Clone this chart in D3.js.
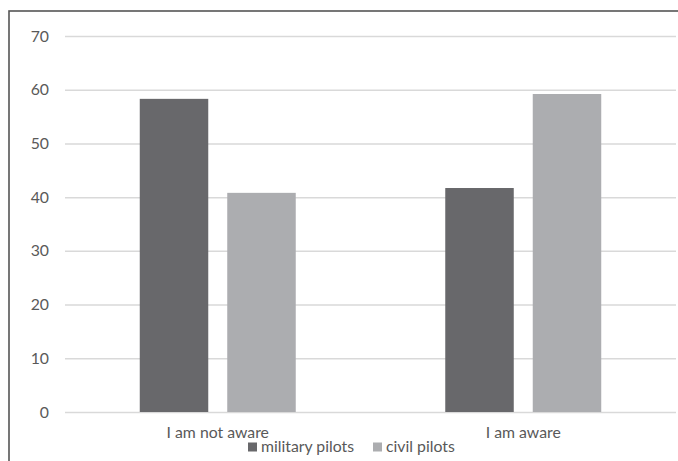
<!DOCTYPE html>
<html><head><meta charset="utf-8">
<script src="https://cdn.jsdelivr.net/npm/d3@7"></script>
<style>html,body{margin:0;padding:0;background:#fff;}svg{display:block;}</style>
</head><body>
<script>
const categories = ["I am not aware", "I am aware"];
const seriesNames = ["military pilots", "civil pilots"];
const military = [58.3, 41.7];
const civil = [40.8, 59.2];
const yTicks = [0, 10, 20, 30, 40, 50, 60, 70];
const colors = ["#68686b", "#acadb0"];

(function () {
const W = 678, H = 461;
const svg = d3.select("body").append("svg").attr("width", W).attr("height", H);
const font = "Lato, 'Open Sans', sans-serif";
const fs = "15.8px";

// frame (left & top edges visible)
svg.append("rect").attr("x", 9).attr("y", 11).attr("width", W + 10).attr("height", H + 10)
  .attr("fill", "none").attr("stroke", "#555").attr("stroke-width", 1.6);

const pl = 65, pr = 676, pt = 36, pb = 412;
const y = d3.scaleLinear().domain([0, 70]).range([pb, pt]);
const x0 = d3.scaleBand().domain(categories).range([pl, pr]).padding(0);
const bw = x0.bandwidth();
const groupW = bw * 0.5106;
const x1 = d3.scaleBand().domain(seriesNames).range([(bw - groupW) / 2, (bw + groupW) / 2]).paddingInner(0.217).paddingOuter(0);

// gridlines
const yAxis = d3.axisLeft(y).tickValues(yTicks).tickSize(-(pr - pl)).tickPadding(16).tickFormat(d3.format("d"));
const ga = svg.append("g").attr("transform", `translate(${pl},0)`).call(yAxis);
ga.select(".domain").remove();
ga.selectAll(".tick line").attr("stroke", "#d9d9d9").attr("stroke-width", 1.5);
ga.selectAll(".tick text").attr("fill", "#595959").style("font-family", font).style("font-size", fs);

const data = categories.map((c, i) => ({ cat: c, vals: [military[i], civil[i]] }));
const groups = svg.append("g").selectAll("g").data(data).join("g")
  .attr("transform", d => `translate(${x0(d.cat)},0)`);
groups.selectAll("rect").data(d => d.vals.map((v, j) => ({ s: seriesNames[j], v, j }))).join("rect")
  .attr("x", d => x1(d.s)).attr("width", x1.bandwidth())
  .attr("y", d => y(d.v)).attr("height", d => y(0) - y(d.v))
  .attr("fill", d => colors[d.j]);

// category labels
const xAxis = d3.axisBottom(x0).tickSize(0).tickPadding(15);
const gx = svg.append("g").attr("transform", `translate(0,${pb})`).call(xAxis);
gx.select(".domain").remove();
gx.selectAll(".tick text").attr("fill", "#595959").style("font-family", font).style("font-size", fs);

// legend
const legendX = [248, 373];
const lg = svg.append("g");
seriesNames.forEach((s, i) => {
  lg.append("rect").attr("x", legendX[i]).attr("y", 442.5).attr("width", 9).attr("height", 9).attr("fill", colors[i]);
  lg.append("text").attr("x", legendX[i] + 13).attr("y", 452).attr("fill", "#595959")
    .style("font-family", font).style("font-size", fs).text(s);
});
})();
</script>
</body></html>
